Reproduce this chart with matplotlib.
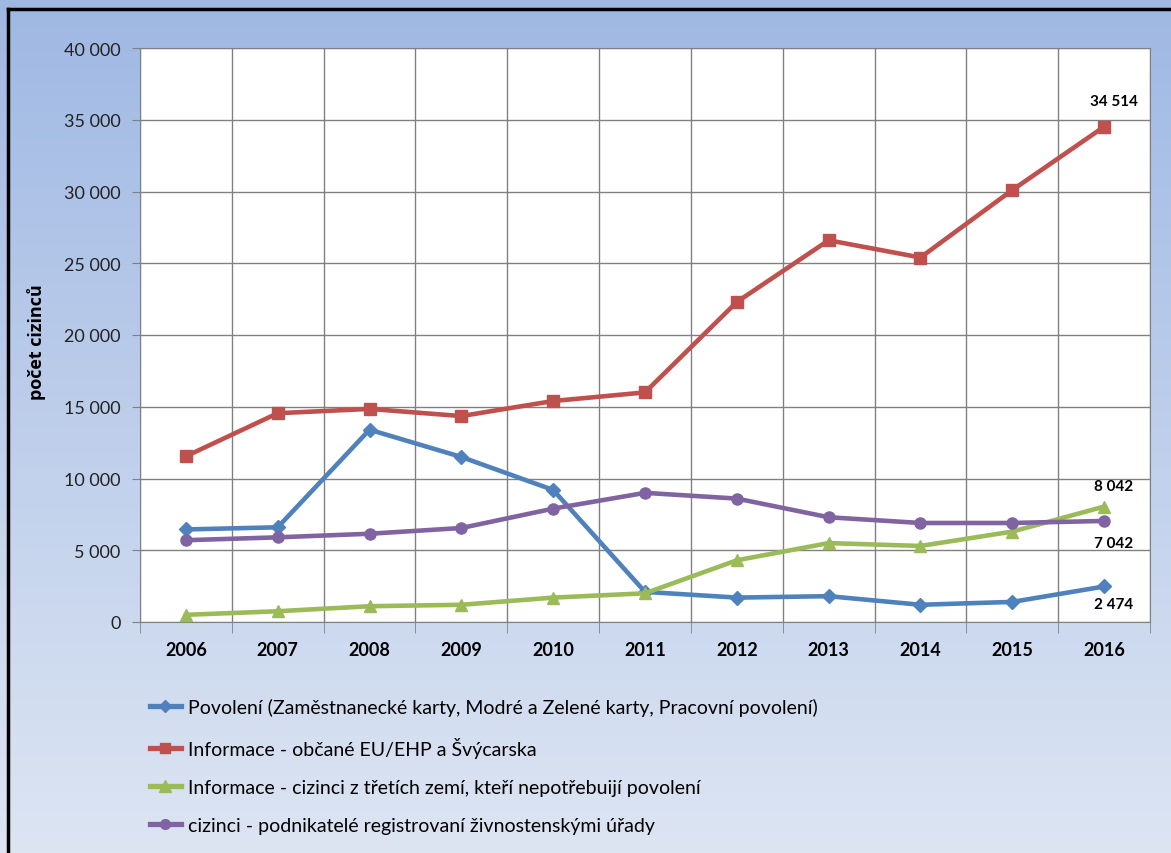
import numpy as np
import matplotlib.pyplot as plt
from matplotlib.lines import Line2D

plt.rcParams['font.family'] = ['Lato', 'DejaVu Sans']

years = ['2006', '2007', '2008', '2009', '2010', '2011', '2012', '2013', '2014', '2015', '2016']
povoleni = [6450, 6600, 13400, 11500, 9200, 2100, 1700, 1800, 1200, 1400, 2474]
eu_ehp = [11550, 14550, 14850, 14350, 15400, 16000, 22300, 26600, 25400, 30100, 34514]
tretizeme = [500, 750, 1100, 1200, 1700, 2000, 4300, 5500, 5300, 6300, 8042]
podnikatele = [5700, 5900, 6150, 6550, 7900, 9000, 8600, 7300, 6900, 6900, 7042]

labels = ['Povolení (Zaměstnanecké karty, Modré a Zelené karty, Pracovní povolení)',
          'Informace - občané EU/EHP a Švýcarska',
          'Informace - cizinci z třetích zemí, kteří nepotřebuijí povolení',
          'cizinci - podnikatelé registrovaní živnostenskými úřady']
colors = ['#4f81bd', '#c0504d', '#9bbb59', '#8064a2']
markers = ['D', 's', '^', 'o']
msizes = [7, 8, 9, 8]

def fmt(v):
    return f'{v:,}'.replace(',', ' ')

fig = plt.figure(figsize=(11.71, 8.54), dpi=100)

# gradient background
bg = fig.add_axes([0, 0, 1, 1], zorder=-10)
top = np.array([159, 184, 227]) / 255
bot = np.array([221, 229, 243]) / 255
t = np.linspace(0, 1, 256)[:, None]
grad = top * (1 - t[..., None]) + bot * t[..., None]
grad = np.repeat(grad, 4, axis=1)
bg.imshow(grad, aspect='auto', extent=[0, 1, 0, 1], origin='upper')
bg.set_xlim(0, 1)
bg.set_ylim(0, 1)
bg.axis('off')
# black frame on top and left
bg.plot([8 / 1171, 1], [1 - 10 / 854, 1 - 10 / 854], color='black', lw=2.5)
bg.plot([8 / 1171, 8 / 1171], [0, 1 - 10 / 854], color='black', lw=2.5)

ax = fig.add_axes([140 / 1171, 231 / 854, 1010 / 1171, 574 / 854])
ax.set_facecolor('white')
x = np.arange(len(years))
series = [povoleni, eu_ehp, tretizeme, podnikatele]
for vals, c, m, ms in zip(series, colors, markers, msizes):
    ax.plot(x, vals, color=c, lw=3.3, marker=m, markersize=ms, zorder=3)

ax.set_xlim(-0.5, len(years) - 0.5)
ax.set_ylim(0, 40000)
ax.set_yticks(range(0, 40001, 5000))
ax.set_yticklabels([fmt(v) for v in range(0, 40001, 5000)], fontsize=13, color='#222222')
ax.set_xticks(x)
ax.set_xticklabels(years, fontsize=13, fontweight='bold')
ax.set_xticks(np.arange(-0.5, len(years)), minor=True)
ax.tick_params(axis='x', which='major', length=0, pad=14)
ax.tick_params(axis='x', which='minor', length=8, color='#808080')
ax.tick_params(axis='y', length=6, color='#808080', pad=8)
ax.grid(True, axis='y', color='#808080', lw=1)
ax.grid(True, axis='x', which='minor', color='#808080', lw=1)
for s in ax.spines.values():
    s.set_color('#808080')
ax.set_axisbelow(True)

fig.text(37 / 1171, 1 - 342 / 854, 'počet cizinců', rotation=90, ha='center', va='center',
         fontsize=13, fontweight='bold', family=['Open Sans', 'DejaVu Sans'])

for vals, dy in [(eu_ehp, 18.5), (tretizeme, 15), (podnikatele, -16), (povoleni, -12.5)]:
    ax.annotate(fmt(vals[-1]), (x[-1], vals[-1]), xytext=(7, dy), textcoords='offset points',
                ha='center', va='center', fontsize=11, fontweight='bold')

handles = [Line2D([0], [0], color=c, lw=3.8, marker=m, markersize=ms - 1)
           for c, m, ms in zip(colors, markers, msizes)]
fig.legend(handles, labels, loc='upper left', bbox_to_anchor=(142 / 1171, 1 - 691 / 854),
           frameon=False, fontsize=14, handlelength=1.6, handletextpad=0.35,
           labelspacing=1.08, borderaxespad=0)

fig.savefig('out.png', dpi=100)
